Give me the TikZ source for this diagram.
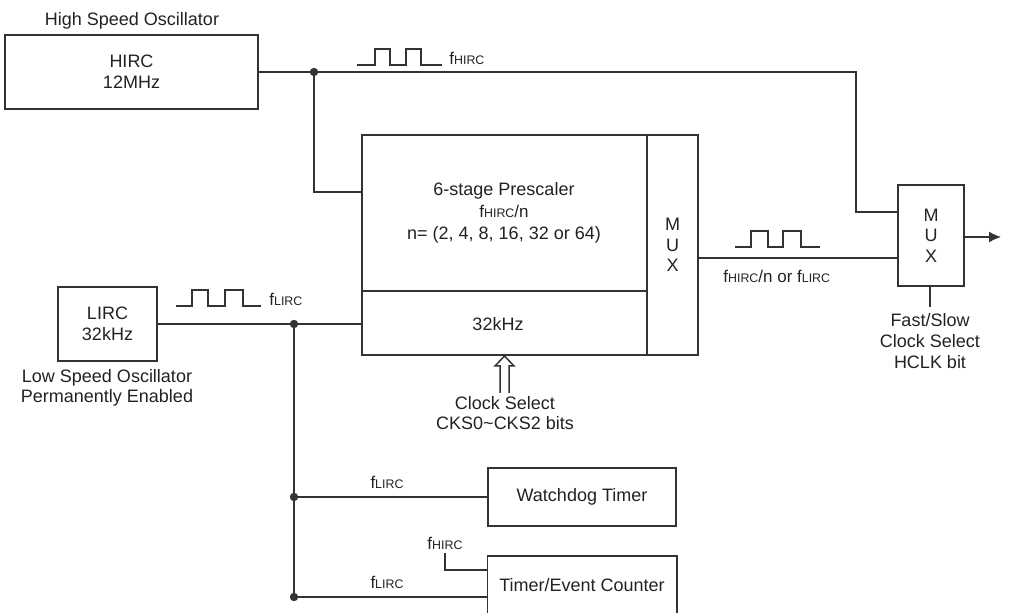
\documentclass[tikz,border=0pt]{standalone}
\usepackage{fontspec}
\setmainfont{Liberation Sans}
\usetikzlibrary{arrows.meta}
\definecolor{ln}{HTML}{333333}
\definecolor{tx}{HTML}{222222}
\newcommand{\mysub}[1]{{\fontsize{6.2}{7}\selectfont #1}}
\tikzset{
  blk/.style={draw=ln, line width=0.75pt, inner sep=0pt, align=center, text=tx, font=\fontsize{9}{10.5}\selectfont},
  lbl/.style={inner sep=0pt, align=center, text=tx, font=\fontsize{9}{10}\selectfont},
  flbl/.style={inner sep=0pt, text=tx, font=\fontsize{8.5}{9}\selectfont},
  wire/.style={draw=ln, line width=0.75pt},
  dot/.style={circle, fill=ln, inner sep=0pt, minimum size=4.2pt}
}
\begin{document}
\begin{tikzpicture}[x=0.5pt, y=-0.5pt]
\useasboundingbox (0,0) rectangle (1017,613);
% blocks
\node[blk, minimum width=126.5pt, minimum height=37pt] (hirc) at (131.5,72) {HIRC\\12MHz};
\node[lbl] (hso) at (132,21) {High Speed Oscillator};
\node[blk, minimum width=49.5pt, minimum height=37pt] (lirc) at (107.5,324) {LIRC\\32kHz};
\node[lbl] (lso) at (107,388) {Low Speed Oscillator\\Permanently Enabled};
\node[blk, minimum width=142.5pt, minimum height=78pt] (pre) at (504.5,213) {};
\node[blk, minimum width=142.5pt, minimum height=32pt] (k32) at (504.5,323) {};
\node[lbl] (k32t) at (498,324) {32kHz};
\node[blk, minimum width=25.5pt, minimum height=110pt, font=\fontsize{9}{10.4}\selectfont] (mux1) at (672.5,245) {M\\U\\X};
\node[lbl] (pre1) at (504,191) {6-stage Prescaler};
\node[flbl] (pre2) at (504,211) {f\mysub{HIRC}/n};
\node[lbl] (pre3) at (504,235) {n= (2, 4, 8, 16, 32 or 64)};
\node[blk, minimum width=33pt, minimum height=50.5pt, font=\fontsize{9}{10.3}\selectfont] (mux2) at (931,235.5) {M\\U\\X};
\node[lbl, font=\fontsize{9}{10.3}\selectfont] (fss) at (930,341) {Fast/Slow\\Clock Select\\HCLK bit};
\node[blk, minimum width=94pt, minimum height=29pt] (wdt) at (582,497) {Watchdog Timer};
\node[blk, draw=none, minimum width=94pt, minimum height=28pt] (tec) at (582,585) {Timer/Event Counter};
\draw[wire] (tec.south west) |- (tec.north east) -- (tec.south east);
\node[lbl] (cks) at (505,413) {Clock Select\\CKS0\textasciitilde CKS2 bits};
% labels
\node[flbl, anchor=west] (lh) at (449,58) {f\mysub{HIRC}};
\node[flbl, anchor=west] (ll) at (269,299) {f\mysub{LIRC}};
\node[flbl, anchor=west] (lm) at (723,276) {f\mysub{HIRC}/n or f\mysub{LIRC}};
\node[flbl] (lw) at (387,482) {f\mysub{LIRC}};
\node[flbl] (lt) at (387,582) {f\mysub{LIRC}};
\node[flbl] (lth) at (445,543) {f\mysub{HIRC}};
% coordinates
\coordinate (j1) at (314,72);
\coordinate (j2) at (294,324);
\coordinate (j3) at (294,497);
\coordinate (j4) at (294,597);
\coordinate (pin1) at (362,192);
\coordinate (m2a) at (898,212);
\coordinate (m2b) at (898,258);
\coordinate (m2out) at (1001,237);
\coordinate (sel) at (930,307);
\coordinate (thin) at (445,553);
% wires
\draw[wire] (hirc.east) -| (856,212) -- (m2a);
\draw[wire] (j1) |- (pin1);
\draw[wire] (lirc.east) -- (lirc.east -| k32.west);
\draw[wire] (j2) -- (j4);
\draw[wire] (j3) -- (wdt.west);
\draw[wire] (j4) -- (j4 -| tec.west);
\draw[wire] (mux1.east |- m2b) -- (m2b);
\draw[wire, -{Latex[length=6pt,width=5.5pt]}] (mux2.east |- m2out) -- (m2out);
\draw[wire] (mux2.south -| sel) -- (sel);
\draw[wire] (thin) |- (tec.west |- 0,570);
\node[dot] at (j1) {};
\node[dot] at (j2) {};
\node[dot] at (j3) {};
\node[dot] at (j4) {};
% hollow arrow
\draw[wire, line join=miter] (500,393) -- (500,366) -- (495,366) -- (504.5,356) -- (514,366) -- (509,366) -- (509,393);
% waves
\draw[wire] (357,65) -- ++(18,0) -- ++(0,-16) -- ++(15,0) -- ++(0,16) -- ++(16,0) -- ++(0,-16) -- ++(15,0) -- ++(0,16) -- ++(21,0);
\draw[wire] (176,306) -- ++(16,0) -- ++(0,-16) -- ++(16,0) -- ++(0,16) -- ++(17,0) -- ++(0,-16) -- ++(18,0) -- ++(0,16) -- ++(18,0);
\draw[wire] (735,247) -- ++(16,0) -- ++(0,-16) -- ++(17,0) -- ++(0,16) -- ++(15,0) -- ++(0,-16) -- ++(18,0) -- ++(0,16) -- ++(19,0);
\end{tikzpicture}
\end{document}
